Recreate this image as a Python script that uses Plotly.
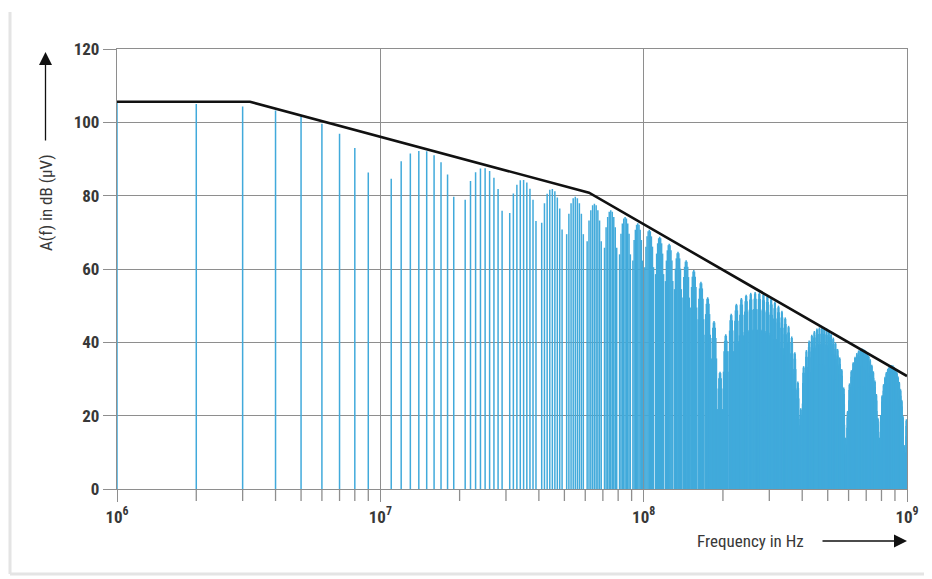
import math
import plotly.graph_objects as go

# ---------------- data ----------------
# individually resolved harmonics of the 1 MHz pulse train (MHz) and their level (dB µV)
low_harmonics_mhz = [1, 2, 3, 4, 5, 6, 7, 8, 9,
                     11, 12, 13, 14, 15, 16, 17, 18, 19,
                     21, 22, 23, 24, 25, 26, 27, 28, 29,
                     31, 32, 33, 34, 35, 36, 37, 38, 39,
                     41, 42, 43, 44, 45, 46, 47, 48, 49]
low_harmonics_db = [105.5, 105.0, 104.3, 103.2, 101.7, 99.6, 96.9, 93.0, 86.3,
                    84.6, 89.4, 91.5, 92.2, 92.1, 91.0, 89.1, 85.8, 79.7,
                    78.9, 84.0, 86.4, 87.4, 87.5, 86.7, 84.9, 81.8, 75.9,
                    75.3, 80.6, 83.0, 84.2, 84.3, 83.6, 81.9, 78.9, 73.1,
                    72.6, 77.9, 80.5, 81.6, 81.8, 81.2, 79.5, 76.5, 70.8]

# dense region: each 10 MHz lobe (start frequency in MHz) and its peak level (dB µV)
lobe_start_mhz = list(range(50, 1000, 10))
lobe_peak_db = [79.7, 77.8, 76.0, 74.2, 72.5, 70.7, 68.8, 66.9, 64.7, 62.4,
                59.7, 56.5, 52.3, 45.8, 32.0, 42.2, 47.8, 50.5, 52.1, 53.0,
                53.5, 53.7, 53.6, 53.3, 52.8, 52.1, 51.1, 50.0, 48.6, 46.8,
                44.5, 41.6, 37.3, 29.3, 22.0, 33.5, 37.9, 40.5, 42.1, 43.1,
                43.8, 44.1, 44.2, 44.1, 43.8, 43.2, 42.4, 41.3, 40.0, 38.2,
                35.9, 32.7, 27.7, 14.0, 21.3, 28.8, 32.4, 34.6, 36.1, 37.1,
                37.8, 38.1, 38.3, 38.1, 37.8, 37.3, 36.4, 35.4, 33.9, 32.1,
                29.6, 25.9, 19.4, 14.0, 20.2, 25.6, 28.6, 30.6, 31.9, 32.8,
                33.4, 33.8, 33.8, 33.7, 33.3, 32.7, 31.9, 30.7, 29.2, 27.2,
                24.3, 19.9, 12.0, 10.0, 19.0]
# harmonics inside one lobe (MHz above lobe start) and their level relative to the lobe peak (dB)
lobe_offset_mhz = [1, 2, 3, 4, 5, 6, 7, 8, 9]
lobe_shape_db = [-10.2, -4.6, -1.8, -0.4, 0.0, -0.4, -1.8, -4.6, -10.2]

# asymptotic envelope (black line)
envelope_freq_hz = [1e6, 3.2e6, 6.2e7, 1e9]
envelope_db = [105.6, 105.6, 80.8, 30.8]

# axis ticks
major_ticks_hz = [1e6, 1e7, 1e8, 1e9]
major_tick_text = ["10<sup>6</sup>", "10<sup>7</sup>", "10<sup>8</sup>", "10<sup>9</sup>"]
minor_multipliers = [2, 3, 4, 5, 6, 7, 8, 9]
y_ticks = [0, 20, 40, 60, 80, 100, 120]

# ---------------- build spectral lines ----------------
freqs_mhz = list(low_harmonics_mhz)
levels_db = list(low_harmonics_db)
for start, peak in zip(lobe_start_mhz, lobe_peak_db):
    for off, sh in zip(lobe_offset_mhz, lobe_shape_db):
        freqs_mhz.append(start + off)
        levels_db.append(max(peak + sh, 0.0))

bx, by = [], []
for f, a in zip(freqs_mhz, levels_db):
    bx += [f * 1e6, f * 1e6, None]
    by += [0, a, None]

BAR = "#41aadb"
GRID = "#8e8e8e"
TXT = "#383838"
FONT = "Liberation Sans Narrow, Roboto Condensed, Arial Narrow, Liberation Sans, sans-serif"

# page is drawn with an 8 px body margin -> figure coords = window coords - 8
OFF = 8
W, H = 922, 568
L, T = 117 - OFF, 49 - OFF
R = W - (907 - OFF)
B = H - (489 - OFF)
pw, ph = W - L - R, H - T - B


def px(xw):
    return (xw - OFF - L) / pw


def py(yw):
    return (H - B - (yw - OFF)) / ph


fig = go.Figure()
fig.add_trace(go.Scatter(x=bx, y=by, mode="lines",
                         line=dict(color=BAR, width=1.5),
                         hoverinfo="skip", showlegend=False))
fig.add_trace(go.Scatter(x=envelope_freq_hz, y=envelope_db, mode="lines",
                         line=dict(color="#111111", width=2.6),
                         hoverinfo="skip", showlegend=False))

fig.update_layout(
    width=W, height=H,
    margin=dict(l=L, r=R, t=T, b=B),
    paper_bgcolor="white", plot_bgcolor="white",
    showlegend=False,
    font=dict(family=FONT, color=TXT, size=15),
    xaxis=dict(
        type="log", range=[6, 9],
        tickmode="array", tickvals=major_ticks_hz, ticktext=major_tick_text,
        ticks="outside", ticklen=12, tickwidth=1.3, tickcolor=GRID,
        showgrid=True, gridcolor=GRID, gridwidth=1.3,
        showline=True, linecolor=GRID, linewidth=1.3, mirror=True,
        zeroline=False, layer="below traces",
        tickfont=dict(family=FONT, size=17, color=TXT, weight="bold"),
    ),
    yaxis=dict(
        range=[0, 120], tickmode="array", tickvals=y_ticks,
        ticks="outside", ticklen=13, tickwidth=1.3, tickcolor=GRID,
        showgrid=True, gridcolor=GRID, gridwidth=1.3,
        showline=True, linecolor=GRID, linewidth=1.3, mirror=True,
        zeroline=False, layer="below traces",
        tickfont=dict(family=FONT, size=17, color=TXT, weight="bold"),
    ),
)

# minor log ticks (2..9 per decade) below the frequency axis
for d in major_ticks_hz[:-1]:
    for m in minor_multipliers:
        xp = (math.log10(m * d) - 6) / 3
        fig.add_shape(type="line", xref="paper", yref="paper",
                      x0=xp, x1=xp, y0=0, y1=-12 / ph,
                      line=dict(color=GRID, width=1.3))

# axis titles with arrows
fig.add_annotation(xref="paper", yref="paper", x=px(46), y=py(203),
                   xanchor="center", yanchor="middle",
                   text="A(f) in dB (µV)", showarrow=False, textangle=-90,
                   font=dict(family=FONT, size=17, color=TXT))
fig.add_annotation(xref="paper", yref="paper", x=px(45.5), y=py(52),
                   ax=0, ay=90, text="", showarrow=True,
                   arrowhead=2, arrowsize=2.0, arrowwidth=1.3, arrowcolor="#111111")
fig.add_annotation(xref="paper", yref="paper", x=px(750), y=py(541),
                   xanchor="center", yanchor="middle",
                   text="Frequency in Hz", showarrow=False,
                   font=dict(family=FONT, size=17, color=TXT))
fig.add_annotation(xref="paper", yref="paper", x=px(907), y=py(541),
                   ax=-86, ay=0, text="", showarrow=True,
                   arrowhead=2, arrowsize=2.0, arrowwidth=1.3, arrowcolor="#111111")

# faint panel frame of the original figure
fig.add_shape(type="line", xref="paper", yref="paper",
              x0=px(10), x1=px(10), y0=py(12), y1=py(574),
              line=dict(color="#e4e4e4", width=3))
fig.add_shape(type="line", xref="paper", yref="paper",
              x0=px(10), x1=px(928), y0=py(574), y1=py(574),
              line=dict(color="#e4e4e4", width=3))

fig.write_html("out.html")
